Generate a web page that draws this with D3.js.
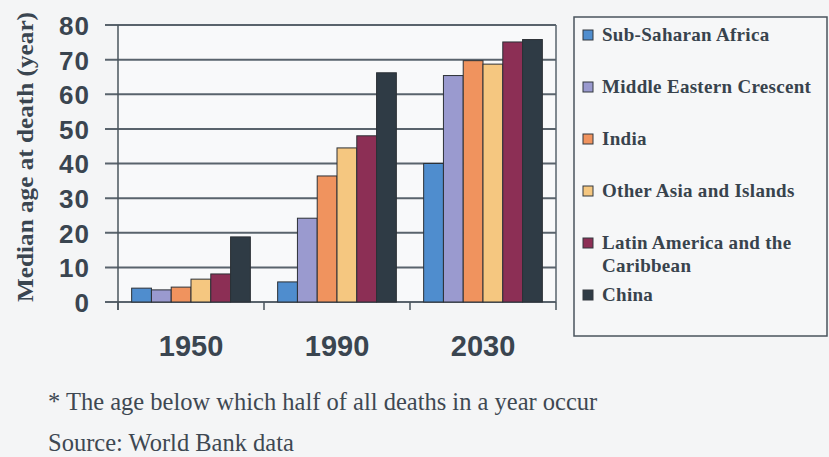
<!DOCTYPE html>
<html>
<head>
	<meta charset="utf-8">
	<script src="https://d3js.org/d3.v7.min.js"></script>
	<style>
		body { margin: 0; background: #f4f5f6; }
		.grid line { stroke: #59636c; stroke-width: 2; }
		.axis path, .axis line { stroke: #4a545d; stroke-width: 1.5; }
		.bar { stroke: #2c3136; stroke-width: 1; }
	</style>
</head>
<body>
	<svg width="829" height="457"></svg>
	<script>

		// data
		var years = ["1950", "1990", "2030"];
		var regions = ["Sub-Saharan Africa", "Middle Eastern Crescent", "India",
			"Other Asia and Islands", "Latin America and the Caribbean", "China"];
		var legendLines = [["Sub-Saharan Africa"], ["Middle Eastern Crescent"], ["India"],
			["Other Asia and Islands"], ["Latin America and the", "Caribbean"], ["China"]];
		var colors = ["#4f8dce", "#9a9acf", "#f0935e", "#f5c780", "#8c2f55", "#2f3b45"];
		var ssAfrica  = [4.0, 5.8, 40.0];
		var midEast   = [3.5, 24.2, 65.4];
		var india     = [4.3, 36.4, 69.7];
		var otherAsia = [6.6, 44.5, 68.7];
		var latinAm   = [8.1, 48.0, 75.1];
		var china     = [18.8, 66.2, 75.8];
		var seriesValues = [ssAfrica, midEast, india, otherAsia, latinAm, china];
		var yTicks = [0, 10, 20, 30, 40, 50, 60, 70, 80];

		var SERIF = "'Liberation Serif', 'Times New Roman', serif",
		SANS = "'Liberation Sans', Arial, sans-serif",
		INK = "#3a4550";

		var svg = d3.select("svg"),
		margin = {top: 25, right: 273, bottom: 155, left: 118},
		width = +svg.attr("width") - margin.left - margin.right,
		height = +svg.attr("height") - margin.top - margin.bottom;

		var x = d3.scaleBand().domain(years).range([0, width]),
		x1 = d3.scaleBand().domain(regions).range([0, x.bandwidth()]).paddingOuter(0.69),
		y = d3.scaleLinear().domain([0, 80]).range([height, 0]);

		var g = svg.append("g")
		.attr("transform", "translate(" + margin.left + "," + margin.top + ")");

		// plot area background
		g.append("rect")
		.attr("width", width)
		.attr("height", height)
		.attr("fill", "#f8f9fa");

		// horizontal gridlines, reaching a bit left of the axis
		g.append("g")
		.attr("class", "grid")
		.selectAll("line")
		.data(yTicks)
		.enter().append("line")
		.attr("x1", -13)
		.attr("x2", width)
		.attr("y1", function(d) { return y(d); })
		.attr("y2", function(d) { return y(d); });

		// right frame line
		g.append("line")
		.attr("x1", width).attr("x2", width)
		.attr("y1", 0).attr("y2", height)
		.attr("stroke", "#59636c").attr("stroke-width", 1.5);

		var data = [];
		years.forEach(function(yr, i) {
			regions.forEach(function(r, j) {
				data.push({year: yr, region: r, value: seriesValues[j][i], color: colors[j]});
			});
		});

		g.selectAll(".bar")
		.data(data)
		.enter().append("rect")
		.attr("class", "bar")
		.attr("x", function(d) { return x(d.year) + x1(d.region); })
		.attr("y", function(d) { return y(d.value); })
		.attr("width", x1.bandwidth())
		.attr("height", function(d) { return height - y(d.value); })
		.attr("fill", function(d) { return d.color; });

		// y axis
		var yAxis = g.append("g")
		.attr("class", "axis axis--y")
		.call(d3.axisLeft(y).tickValues(yTicks).tickSize(0).tickPadding(28));
		yAxis.select(".domain").attr("d", "M0,0V" + (height + 8));
		yAxis.selectAll("text")
		.attr("dy", "0.36em")
		.style("font-family", SANS)
		.style("font-weight", "bold")
		.style("font-size", "26px")
		.style("letter-spacing", "1px")
		.style("fill", INK);

		// x axis, ticks on category boundaries
		var xAxis = g.append("g")
		.attr("class", "axis axis--x")
		.attr("transform", "translate(0," + height + ")")
		.call(d3.axisBottom(x).tickSize(0).tickPadding(33));
		xAxis.select(".domain").remove();
		xAxis.selectAll("text")
		.attr("dy", "0.71em")
		.style("font-family", SANS)
		.style("font-weight", "bold")
		.style("font-size", "29px")
		.style("fill", INK);
		g.append("g")
		.attr("class", "axis")
		.selectAll("line")
		.data(years.concat(["end"]))
		.enter().append("line")
		.attr("x1", function(d, i) { return i * x.step(); })
		.attr("x2", function(d, i) { return i * x.step(); })
		.attr("y1", height)
		.attr("y2", height + 8);

		// axis title
		svg.append("text")
		.attr("transform", "translate(33," + (margin.top + height) + ") rotate(-90)")
		.attr("textLength", 290)
		.attr("lengthAdjust", "spacingAndGlyphs")
		.style("font-family", SERIF)
		.style("font-weight", "bold")
		.style("font-size", "24px")
		.style("fill", INK)
		.text("Median age at death (year)");

		// legend
		var lg = svg.append("g");
		lg.append("rect")
		.attr("x", 574).attr("y", 17)
		.attr("width", 253).attr("height", 319)
		.attr("fill", "#f6f7f8")
		.attr("stroke", "#4a545d")
		.attr("stroke-width", 1.5);

		var item = lg.selectAll(".item")
		.data(regions)
		.enter().append("g")
		.attr("class", "item")
		.attr("transform", function(d, i) { return "translate(583," + (41 + i * 52) + ")"; });

		item.append("rect")
		.attr("x", 0).attr("y", -11)
		.attr("width", 10).attr("height", 10)
		.attr("fill", function(d, i) { return colors[i]; })
		.attr("stroke", "#33393f")
		.attr("stroke-width", 1);

		item.append("text")
		.style("font-family", SERIF)
		.style("font-weight", "bold")
		.style("font-size", "19px")
		.style("letter-spacing", "0.3px")
		.style("fill", "#38434d")
		.selectAll("tspan")
		.data(function(d, i) { return legendLines[i]; })
		.enter().append("tspan")
		.attr("x", 19)
		.attr("dy", function(d, i) { return i ? 23 : 0; })
		.text(function(d) { return d; });

		// notes
		svg.append("text")
		.attr("x", 48).attr("y", 410)
		.style("font-family", SERIF)
		.style("font-size", "24.5px")
		.style("fill", "#3e4852")
		.text("* The age below which half of all deaths in a year occur");

		svg.append("text")
		.attr("x", 48).attr("y", 451)
		.style("font-family", SERIF)
		.style("font-size", "24.5px")
		.style("fill", "#3e4852")
		.text("Source: World Bank data");
	</script>
</body>
</html>
